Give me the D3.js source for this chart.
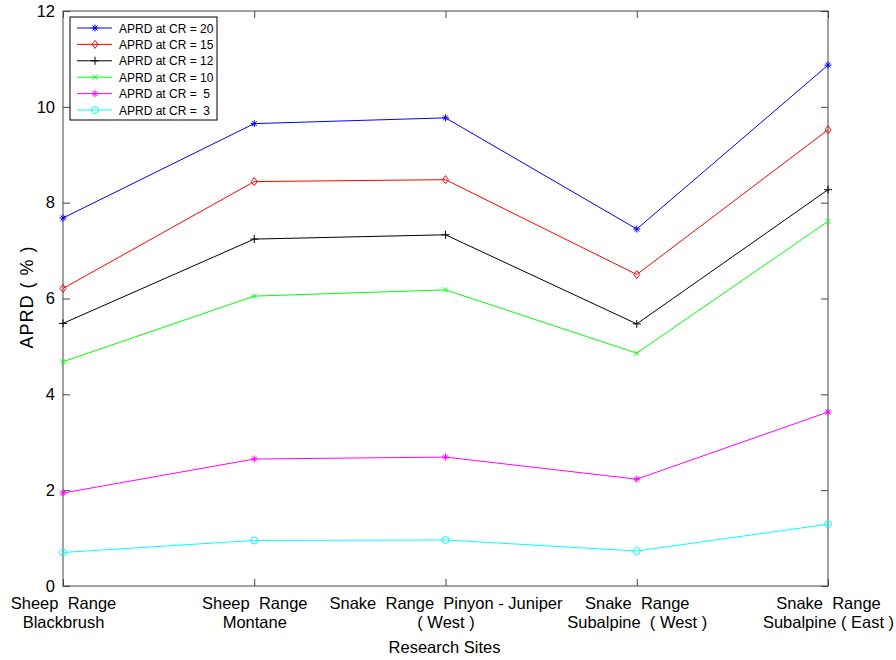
<!DOCTYPE html>
<html>
<head>
<meta charset="utf-8">
<script src="https://cdn.jsdelivr.net/npm/d3@7"></script>
<style>
  body { margin: 0; background: #fff; }
  svg { font-family: "Liberation Sans", Arial, sans-serif; }
  .axis path, .axis line { stroke: #444; }
  .axis text { font-size: 16.5px; fill: #000; }
</style>
</head>
<body>
<div id="chart"></div>
<script>
// research sites (two line labels)
const sites = ['s1', 's2', 's3', 's4', 's5'];
const siteLabels = [
  ['Sheep  Range', 'Blackbrush'],
  ['Sheep  Range', 'Montane'],
  ['Snake  Range  Pinyon - Juniper', '( West )'],
  ['Snake  Range', 'Subalpine  ( West )'],
  ['Snake  Range', 'Subalpine ( East )']
];
const yTicks = [0, 2, 4, 6, 8, 10, 12];

// APRD values per compression ratio
const cr20 = [7.68, 9.65, 9.77, 7.45, 10.87];
const cr15 = [6.21, 8.44, 8.48, 6.50, 9.52];
const cr12 = [5.48, 7.24, 7.33, 5.47, 8.27];
const cr10 = [4.68, 6.05, 6.18, 4.86, 7.61];
const cr5 = [1.94, 2.65, 2.69, 2.23, 3.63];
const cr3 = [0.70, 0.95, 0.96, 0.73, 1.29];

const seriesNames = ['APRD at CR = 20', 'APRD at CR = 15', 'APRD at CR = 12',
  'APRD at CR = 10', 'APRD at CR =  5', 'APRD at CR =  3'];
const seriesValues = [cr20, cr15, cr12, cr10, cr5, cr3];
const seriesColors = ['#0000ff', '#ff0000', '#000000', '#00ff00', '#ff00ff', '#00ffff'];
const seriesMarkers = ['asterisk', 'diamond', 'plus', 'cross', 'asterisk', 'circle'];

const W = 896, H = 660;
const margin = { top: 11, right: 68, bottom: 74, left: 63 };
const width = W - margin.left - margin.right;
const height = H - margin.top - margin.bottom;

const svg = d3.select('#chart').append('svg')
  .attr('width', W).attr('height', H);

const g = svg.append('g')
  .attr('transform', 'translate(' + margin.left + ',' + margin.top + ')');

const x = d3.scalePoint().domain(sites).range([0, width]);
const y = d3.scaleLinear().domain([0, 12]).range([height, 0]);

// frame
g.append('rect')
  .attr('x', 0).attr('y', 0).attr('width', width).attr('height', height)
  .attr('fill', 'none').attr('stroke', '#444');

// axes with inward ticks
g.append('g').attr('class', 'axis')
  .call(d3.axisLeft(y).tickValues(yTicks).tickSizeInner(-7).tickSizeOuter(0).tickPadding(8))
  .call(a => a.select('.domain').remove());
g.append('g').attr('class', 'axis')
  .attr('transform', 'translate(' + width + ',0)')
  .call(d3.axisRight(y).tickValues(yTicks).tickSizeInner(-7).tickSizeOuter(0).tickFormat(''))
  .call(a => a.select('.domain').remove());
g.append('g').attr('class', 'axis')
  .call(d3.axisTop(x).tickSizeInner(-7).tickSizeOuter(0).tickFormat(''))
  .call(a => a.select('.domain').remove());
const xAxis = g.append('g').attr('class', 'axis')
  .attr('transform', 'translate(0,' + height + ')')
  .call(d3.axisBottom(x).tickSizeInner(-7).tickSizeOuter(0).tickFormat(''))
  .call(a => a.select('.domain').remove());

xAxis.selectAll('.tick').each(function (d, i) {
  const t = d3.select(this).append('text')
    .attr('text-anchor', 'middle')
    .attr('fill', '#000')
    .style('white-space', 'pre')
    .attr('y', 23);
  siteLabels[i].forEach((line, k) => {
    t.append('tspan').attr('x', 0).attr('dy', k === 0 ? 0 : 19).text(line);
  });
});

// axis titles
svg.append('text')
  .attr('x', margin.left + width / 2 - 1).attr('y', 653)
  .attr('text-anchor', 'middle').attr('font-size', 16.5)
  .text('Research Sites');
svg.append('text')
  .attr('transform', 'translate(33,297) rotate(-90)')
  .attr('text-anchor', 'middle').attr('font-size', 18)
  .attr('letter-spacing', 1)
  .style('white-space', 'pre')
  .text('APRD ( % )');

function marker(sel, type, color) {
  if (type === 'circle') {
    sel.append('circle').attr('r', 3.5).attr('fill', 'none').attr('stroke', color);
  } else if (type === 'diamond') {
    sel.append('path').attr('d', 'M0,-4L3,0L0,4L-3,0Z').attr('fill', 'none').attr('stroke', color);
  } else if (type === 'plus') {
    sel.append('path').attr('d', 'M-4,0H4M0,-4V4').attr('stroke', color);
  } else if (type === 'cross') {
    sel.append('path').attr('d', 'M-2.5,-2.5L2.5,2.5M-2.5,2.5L2.5,-2.5').attr('stroke', color);
  } else {
    sel.append('path').attr('d', 'M-3.5,0H3.5M0,-3.5V3.5M-2.5,-2.5L2.5,2.5M-2.5,2.5L2.5,-2.5').attr('stroke', color);
  }
}

const line = d3.line().x((d, i) => x(sites[i])).y(d => y(d));

seriesValues.forEach((vals, si) => {
  const c = seriesColors[si];
  g.append('path').datum(vals)
    .attr('d', line).attr('fill', 'none').attr('stroke', c).attr('stroke-width', 1);
  g.selectAll('.m' + si).data(vals).join('g')
    .attr('class', 'm' + si)
    .attr('transform', (d, i) => 'translate(' + x(sites[i]) + ',' + y(d) + ')')
    .each(function () { marker(d3.select(this), seriesMarkers[si], c); });
});

// legend
const lg = svg.append('g').attr('transform', 'translate(70,17)');
lg.append('rect').attr('width', 147).attr('height', 103)
  .attr('fill', '#fff').attr('stroke', '#000');
seriesNames.forEach((name, i) => {
  const yy = 11 + i * 16.4;
  const row = lg.append('g').attr('transform', 'translate(0,' + yy + ')');
  row.append('line').attr('x1', 7).attr('x2', 42).attr('stroke', seriesColors[i]);
  const m = row.append('g').attr('transform', 'translate(25,0)');
  marker(m, seriesMarkers[i], seriesColors[i]);
  row.append('text').attr('x', 49).attr('y', 4.5).attr('font-size', 12)
    .style('white-space', 'pre').text(name);
});
</script>
</body>
</html>
